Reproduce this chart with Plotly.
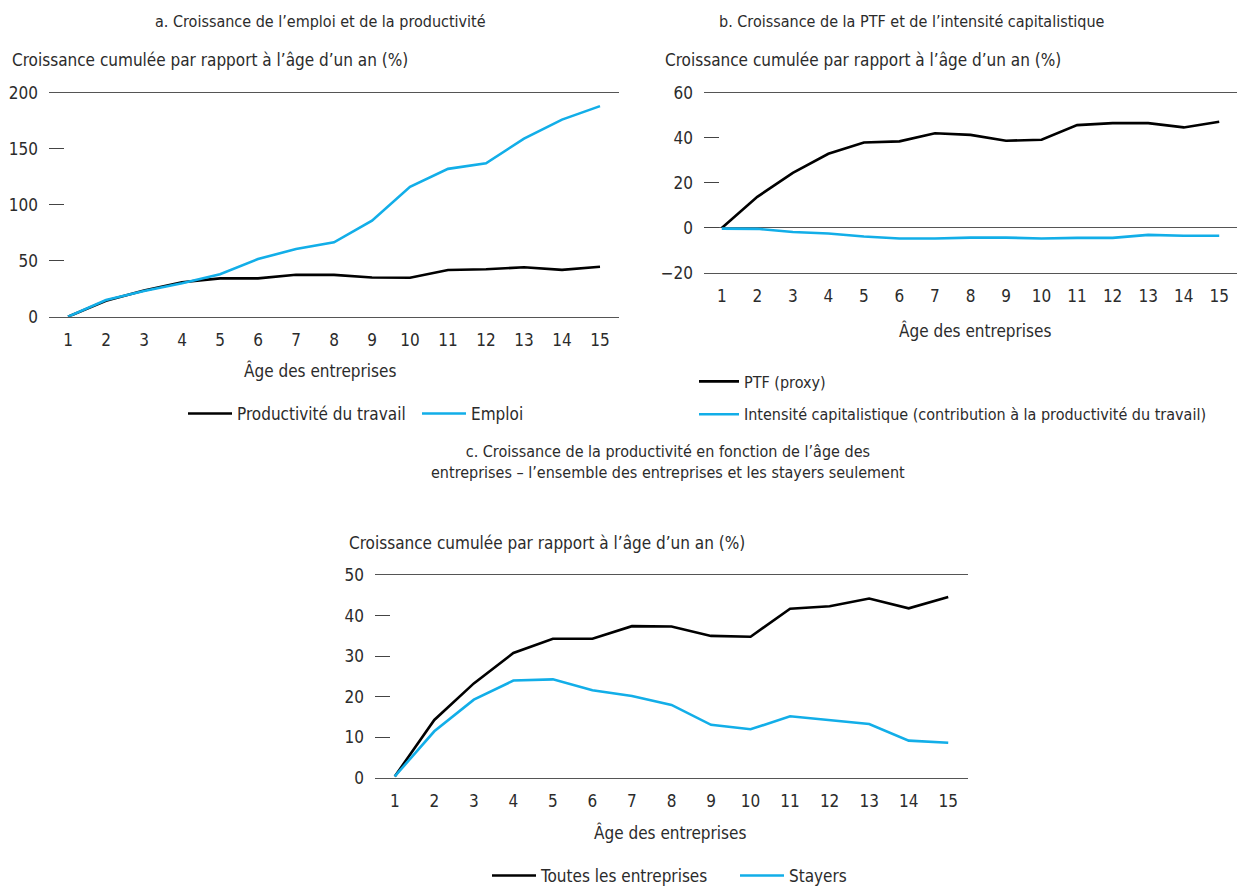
import plotly.graph_objects as go

# Firm age (years)
ages = list(range(1, 16))

# Panel a: cumulative growth relative to age one (%)
productivite_travail = [0, 14.2, 23.3, 30.8, 34.2, 34.2, 37.4, 37.3, 35.0, 34.8, 41.7, 42.3, 44.2, 41.8, 44.6]
emploi = [0, 14.9, 23.0, 29.8, 38.0, 51.5, 60.4, 66.4, 85.7, 116.0, 132.0, 137.0, 159.0, 176.0, 188.0]

# Panel b: TFP and capital intensity
ptf_proxy = [0, 13.8, 24.4, 32.9, 37.9, 38.4, 42.0, 41.3, 38.7, 39.1, 45.6, 46.5, 46.5, 44.6, 47.1]
intensite_capitalistique = [-0.3, -0.4, -1.8, -2.5, -3.8, -4.7, -4.7, -4.3, -4.3, -4.7, -4.4, -4.4, -3.1, -3.5, -3.5]

# Panel c: all firms vs stayers
toutes_entreprises = [0.4, 14.3, 23.3, 30.8, 34.3, 34.3, 37.4, 37.3, 35.0, 34.8, 41.7, 42.3, 44.2, 41.8, 44.6]
stayers = [0.4, 11.5, 19.3, 24.0, 24.3, 21.6, 20.2, 18.0, 13.1, 12.0, 15.2, 14.3, 13.3, 9.2, 8.7]

yticks_a = [0, 50, 100, 150, 200]
yticks_b = [-20, 0, 20, 40, 60]
yticks_c = [0, 10, 20, 30, 40, 50]

BLACK = "#000000"
BLUE = "#12aee8"
TEXT = "#2b2b2b"
FONT = "DejaVu Sans Condensed, DejaVu Sans, sans-serif"
FS = 17
FS_TITLE = 16

W, H = 1237, 886


def px(x):
    return x / W


def py(y):
    return 1 - y / H


fig = go.Figure()


def add_line(x, y, name, color, axis, legend, group):
    fig.add_trace(go.Scatter(x=x, y=y, mode="lines", name=name,
                             line=dict(color=color, width=2.6),
                             xaxis="x" + axis, yaxis="y" + axis,
                             legend=legend, legendgroup=group))


add_line(ages, productivite_travail, "Productivité du travail", BLACK, "", "legend", "a1")
add_line(ages, emploi, "Emploi", BLUE, "", "legend", "a2")
add_line(ages, ptf_proxy, "PTF (proxy)", BLACK, "2", "legend2", "b1")
add_line(ages, intensite_capitalistique,
         "Intensité capitalistique (contribution à la productivité du travail)", BLUE, "2", "legend2", "b2")
add_line(ages, toutes_entreprises, "Toutes les entreprises", BLACK, "3", "legend3", "c1")
add_line(ages, stayers, "Stayers", BLUE, "3", "legend3", "c2")


def xaxis_cfg(domain, anchor):
    return dict(domain=domain, anchor=anchor, range=[0.5, 15.5], tickvals=ages,
                ticktext=[str(a) for a in ages], showgrid=False, zeroline=False,
                showline=True, mirror=True, linecolor="#555555", linewidth=1,
                ticks="", ticklabelstandoff=8, tickfont=dict(size=FS, color=TEXT, family=FONT),
                fixedrange=True)


def yaxis_cfg(domain, anchor, rng, ticks, zero=False):
    return dict(domain=domain, anchor=anchor, range=rng, tickvals=ticks, showgrid=False,
                zeroline=zero, zerolinecolor="#555555", zerolinewidth=1,
                showline=False, ticks="inside", ticklen=15, tickwidth=1, tickcolor="#444444",
                ticklabelstandoff=10, tickfont=dict(size=FS, color=TEXT, family=FONT),
                fixedrange=True)


def legend_cfg(orientation, x, y, entrywidth=None, gap=0, size=FS, itemwidth=44):
    cfg = dict(orientation=orientation, x=px(x), y=py(y), xanchor="left", yanchor="middle",
               font=dict(size=size, color=TEXT, family=FONT), bgcolor="rgba(0,0,0,0)",
               itemwidth=itemwidth, tracegroupgap=gap, itemclick=False, itemdoubleclick=False)
    if entrywidth is not None:
        cfg.update(entrywidth=entrywidth, entrywidthmode="pixels")
    return cfg


fig.update_layout(
    width=W, height=H,
    margin=dict(l=0, r=0, t=0, b=0, autoexpand=False),
    paper_bgcolor="white", plot_bgcolor="white",
    font=dict(family=FONT, size=FS, color=TEXT),
    xaxis=xaxis_cfg([px(49), px(619)], "y"),
    yaxis=yaxis_cfg([py(316.7), py(92.7)], "x", [0, 200], yticks_a),
    xaxis2=xaxis_cfg([px(704), px(1237)], "y2"),
    yaxis2=yaxis_cfg([py(273), py(92.7)], "x2", [-20, 60], yticks_b, zero=True),
    xaxis3=xaxis_cfg([px(375), px(968)], "y3"),
    yaxis3=yaxis_cfg([py(778), py(575)], "x3", [0, 50], yticks_c),
    legend=legend_cfg("h", 183, 414, entrywidth=175),
    legend2=legend_cfg("v", 694, 398, gap=9, size=16, itemwidth=40),
    legend3=legend_cfg("h", 487, 876, entrywidth=189),
    showlegend=True,
)

notes = [
    # panel titles
    (px(320), py(22), "a. Croissance de l’emploi et de la productivité", "center", FS_TITLE),
    (px(912), py(22), "b. Croissance de la PTF et de l’intensité capitalistique", "center", FS_TITLE),
    (px(668), py(462), "c. Croissance de la productivité en fonction de l’âge des<br>entreprises – l’ensemble des entreprises et les stayers seulement", "center", FS_TITLE),
    # y-axis titles
    (px(10), py(60), "Croissance cumulée par rapport à l’âge d’un an (%)", "left", FS),
    (px(663), py(60), "Croissance cumulée par rapport à l’âge d’un an (%)", "left", FS),
    (px(347), py(543), "Croissance cumulée par rapport à l’âge d’un an (%)", "left", FS),
    # x-axis titles
    (px(320), py(370), "Âge des entreprises", "center", FS),
    (px(975), py(330), "Âge des entreprises", "center", FS),
    (px(670), py(832), "Âge des entreprises", "center", FS),
]
for x, y, text, anchor, size in notes:
    fig.add_annotation(x=x, y=y, xref="paper", yref="paper", text=text, showarrow=False,
                       xanchor=anchor, yanchor="middle", align="center",
                       font=dict(size=size, color=TEXT, family=FONT))

fig.write_html("out.html")
